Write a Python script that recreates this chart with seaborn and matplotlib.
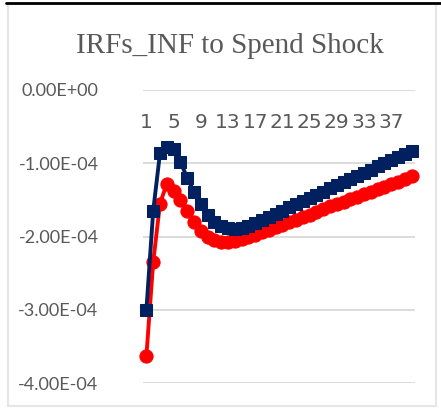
import matplotlib.pyplot as plt
import matplotlib.lines as mlines
import matplotlib.patches as mpatches
import numpy as np
import pandas as pd
import seaborn as sns

# impulse responses, in units of 1e-4
periods = list(range(1, 41))
blue_vals = [-3.00, -1.65, -0.86, -0.78, -0.80, -0.98, -1.20, -1.39, -1.56, -1.70,
             -1.80, -1.86, -1.89, -1.90, -1.89, -1.86, -1.82, -1.77, -1.73, -1.69,
             -1.65, -1.60, -1.56, -1.52, -1.47, -1.43, -1.39, -1.34, -1.30, -1.26,
             -1.22, -1.17, -1.13, -1.09, -1.04, -1.00, -0.96, -0.91, -0.87, -0.83]
red_vals = [-3.63, -2.35, -1.55, -1.28, -1.38, -1.50, -1.65, -1.80, -1.92, -2.00,
            -2.05, -2.07, -2.07, -2.06, -2.04, -2.01, -1.98, -1.94, -1.91, -1.87,
            -1.84, -1.80, -1.77, -1.73, -1.70, -1.66, -1.63, -1.59, -1.56, -1.53,
            -1.49, -1.46, -1.42, -1.39, -1.35, -1.32, -1.28, -1.25, -1.21, -1.18]
xtick_vals = [1, 5, 9, 13, 17, 21, 25, 29, 33, 37]
ytick_vals = [0.0, -1e-4, -2e-4, -3e-4, -4e-4]
ytick_labels = ["0.00E+00", "-1.00E-04", "-2.00E-04", "-3.00E-04", "-4.00E-04"]
title = "IRFs_INF to Spend Shock"

df = pd.DataFrame({"period": periods,
                   "blue": np.array(blue_vals) * 1e-4,
                   "red": np.array(red_vals) * 1e-4})

sns.set_style("white")
plt.rcParams["font.family"] = ["Lato", "DejaVu Sans"]
TXT = "#595959"
GRID = "#D9D9D9"

fig = plt.figure(figsize=(4.41, 4.08), dpi=100)
ax = fig.add_axes([143 / 441, 1 - 383 / 408, 272 / 441, 293 / 408])

for v in ytick_vals:
    ax.axhline(v, color=GRID, lw=1.3, zorder=0)

sns.lineplot(data=df, x="period", y="red", ax=ax, color="#FF0000", lw=2.8,
             marker="o", markersize=9.5, markeredgecolor="#FF0000", clip_on=False, zorder=3)
sns.lineplot(data=df, x="period", y="blue", ax=ax, color="#002060", lw=2.8,
             marker="s", markersize=9, markeredgecolor="#002060", clip_on=False, zorder=4)

ax.set_xlim(0.5, 40.5)
ax.set_ylim(-4e-4, 0)
for s in ax.spines.values():
    s.set_visible(False)

ax.xaxis.tick_top()
ax.set_xticks(xtick_vals)
ax.tick_params(axis="x", length=0, pad=-30, labelcolor=TXT)
ax.set_xticklabels([str(t) for t in xtick_vals], fontsize=14.5,
                   fontfamily="DejaVu Sans")
ax.set_yticks(ytick_vals)
ax.set_yticklabels(ytick_labels)
ax.tick_params(axis="y", length=0, pad=32, labelsize=13, labelcolor=TXT)
ax.set_xlabel("")
ax.set_ylabel("")

fig.text(230 / 441, 1 - 46 / 408, title, ha="center", va="center",
         fontsize=21, color=TXT, family=["Liberation Serif", "DejaVu Serif"])

# chart frame, as in the screenshot
fig.patches.append(mpatches.Rectangle((8 / 441, 2 / 408), 428 / 441, 402 / 408,
                                      transform=fig.transFigure, fill=False,
                                      ec="#E6E6E6", lw=1.5))
fig.lines.append(mlines.Line2D([6 / 441, 1], [1 - 3 / 408, 1 - 3 / 408],
                               transform=fig.transFigure, color="black", lw=2))

fig.savefig("out.png", dpi=100)
